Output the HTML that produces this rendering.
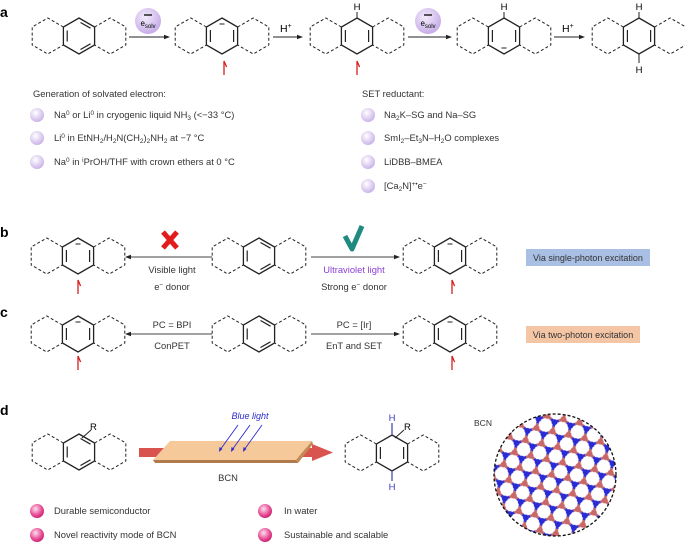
<!DOCTYPE html>
<html><head><meta charset="utf-8"><style>
html,body{margin:0;padding:0;background:#fff;overflow:hidden;width:685px;height:543px;}
svg{display:block;font-family:"Liberation Sans",sans-serif;}
</style></head><body>
<svg width="685" height="543" viewBox="0 0 685 543" xmlns="http://www.w3.org/2000/svg">
<defs>
<radialGradient id="lav" cx="0.4" cy="0.35" r="0.7"><stop offset="0" stop-color="#ffffff"/><stop offset="1" stop-color="#c7aee6"/></radialGradient>
<radialGradient id="pink" cx="0.4" cy="0.35" r="0.7"><stop offset="0" stop-color="#fde0ee"/><stop offset="0.6" stop-color="#e8559a"/><stop offset="1" stop-color="#c8186a"/></radialGradient>
<radialGradient id="esolv" cx="0.4" cy="0.35" r="0.7"><stop offset="0" stop-color="#f3ecfb"/><stop offset="1" stop-color="#c4a8e6"/></radialGradient>
<g id="outer" fill="none" stroke="#222" stroke-width="1" stroke-dasharray="3,2.2">
  <path d="M15.6,-9 L31.2,-18 L46.8,-9 L46.8,9 L31.2,18 L15.6,9"/>
  <path d="M-15.6,-9 L-31.2,-18 L-46.8,-9 L-46.8,9 L-31.2,18 L-15.6,9"/>
</g>
<g id="arom">
  <use href="#outer"/>
  <path d="M0,-18 L15.6,-9 L15.6,9 L0,18 L-15.6,9 L-15.6,-9 Z" fill="none" stroke="#222" stroke-width="1.3"/>
  <path d="M1.5,-13.5 L11.5,-7.8 M11.5,7.8 L1.5,13.5 M-11.8,5.5 L-11.8,-5.5" stroke="#222" stroke-width="1.2" fill="none"/>
</g>
<g id="diene">
  <use href="#outer"/>
  <path d="M0,-18 L15.6,-9 L15.6,9 L0,18 L-15.6,9 L-15.6,-9 Z" fill="none" stroke="#222" stroke-width="1.3"/>
  <path d="M11.6,-6 L11.6,6 M-11.6,-6 L-11.6,6" stroke="#222" stroke-width="1.2"/>
</g>
<g id="rad"><path d="M0,14 L0,0 L2.6,6" fill="none" stroke="#d61f1f" stroke-width="1.3"/></g>
<g id="minus"><path d="M-2.5,0 L2.5,0" stroke="#222" stroke-width="1"/></g>
<pattern id="hc" x="0" y="0" width="28.35" height="16.367" patternUnits="userSpaceOnUse" patternTransform="rotate(-18)">
  <rect width="28.35" height="16.367" fill="#fff"/>
  <g stroke-width="2.8" fill="none">
  <path d="M0,0 L4.725,0 M14.175,8.18 L11.81,4.09 M14.175,8.18 L11.81,12.27 M14.175,8.18 L18.9,8.18 M28.35,0 L25.99,4.09 M28.35,16.367 L25.99,12.27 M0,16.367 L4.725,16.367" stroke="#3434d0"/>
  <path d="M4.725,0 L9.45,0 L11.81,4.09 M9.45,16.367 L11.81,12.27 M18.9,8.18 L23.625,8.18 L25.99,4.09 M23.625,8.18 L25.99,12.27 M4.725,16.367 L9.45,16.367" stroke="#c96868"/>
  </g>
  <g fill="#2b2bd6"><circle cx="0" cy="0" r="3"/><circle cx="28.35" cy="0" r="3"/><circle cx="0" cy="16.367" r="3"/><circle cx="28.35" cy="16.367" r="3"/><circle cx="14.175" cy="8.18" r="3"/></g>
  <g fill="#c96868"><circle cx="9.45" cy="0" r="3"/><circle cx="9.45" cy="16.367" r="3"/><circle cx="23.625" cy="8.18" r="3"/></g>
</pattern>
</defs>

<!-- Panel a -->
<text x="0" y="17" font-size="14" font-weight="bold">a</text>
<use href="#arom" x="79" y="36"/>
<use href="#diene" x="222" y="36"/><use href="#minus" x="222" y="24"/><use href="#rad" x="224" y="61"/>
<use href="#diene" x="357" y="36"/><use href="#rad" x="357" y="61"/>
<line x1="357" y1="18" x2="357" y2="12" stroke="#222"/><text x="357" y="10" font-size="9.5" text-anchor="middle">H</text>
<use href="#diene" x="504" y="36"/><use href="#minus" x="504" y="48"/>
<line x1="504" y1="18" x2="504" y2="12" stroke="#222"/><text x="504" y="10" font-size="9.5" text-anchor="middle">H</text>
<use href="#diene" x="639" y="36"/>
<line x1="639" y1="18" x2="639" y2="12" stroke="#222"/><text x="639" y="10" font-size="9.5" text-anchor="middle">H</text>
<line x1="639" y1="54" x2="639" y2="63" stroke="#222"/><text x="639" y="73" font-size="9.5" text-anchor="middle">H</text>
<g stroke="#222" stroke-width="1"><line x1="129" y1="37" x2="165" y2="37"/><line x1="273" y1="37" x2="298" y2="37"/><line x1="408" y1="37" x2="447" y2="37"/><line x1="554" y1="37" x2="580" y2="37"/></g>
<g fill="#222"><path d="M170,37 l-6,-2.2 v4.4z"/><path d="M303,37 l-6,-2.2 v4.4z"/><path d="M452,37 l-6,-2.2 v4.4z"/><path d="M585,37 l-6,-2.2 v4.4z"/></g>
<circle cx="148" cy="21" r="13" fill="url(#esolv)"/><text x="148" y="26" font-size="8" text-anchor="middle">e<tspan font-size="6" dy="2">solv</tspan></text><path d="M144,15 h8 M146,12 h0.1" stroke="#222" stroke-width="1.6"/>
<circle cx="428" cy="21" r="13" fill="url(#esolv)"/><text x="428" y="26" font-size="8" text-anchor="middle">e<tspan font-size="6" dy="2">solv</tspan></text><path d="M424,15 h8 M426,12 h0.1" stroke="#222" stroke-width="1.6"/>
<text x="280" y="32" font-size="10.5">H<tspan font-size="7" dy="-4">+</tspan></text>
<text x="562" y="32" font-size="10.5">H<tspan font-size="7" dy="-4">+</tspan></text>

<g font-size="9.4" fill="#333">
<text x="33" y="97">Generation of solvated electron:</text>
<circle cx="37" cy="115" r="7" fill="url(#lav)"/><text x="54" y="118">Na<tspan font-size="6.5" dy="-3">0</tspan><tspan dy="3"> or Li</tspan><tspan font-size="6.5" dy="-3">0</tspan><tspan dy="3"> in cryogenic liquid NH</tspan><tspan font-size="6.5" dy="2">3</tspan><tspan dy="-2"> (&lt;−33 °C)</tspan></text>
<circle cx="37" cy="138" r="7" fill="url(#lav)"/><text x="54" y="141">Li<tspan font-size="6.5" dy="-3">0</tspan><tspan dy="3"> in EtNH</tspan><tspan font-size="6.5" dy="2">2</tspan><tspan dy="-2">/H</tspan><tspan font-size="6.5" dy="2">2</tspan><tspan dy="-2">N(CH</tspan><tspan font-size="6.5" dy="2">2</tspan><tspan dy="-2">)</tspan><tspan font-size="6.5" dy="2">2</tspan><tspan dy="-2">NH</tspan><tspan font-size="6.5" dy="2">2</tspan><tspan dy="-2"> at −7 °C</tspan></text>
<circle cx="37" cy="162" r="7" fill="url(#lav)"/><text x="54" y="165">Na<tspan font-size="6.5" dy="-3">0</tspan><tspan dy="3"> in </tspan><tspan font-size="6.5" dy="-3">i</tspan><tspan dy="3">PrOH/THF with crown ethers at 0 °C</tspan></text>
<text x="362" y="97">SET reductant:</text>
<circle cx="368" cy="115" r="7" fill="url(#lav)"/><text x="384" y="118">Na<tspan font-size="6.5" dy="2">2</tspan><tspan dy="-2">K–SG and Na–SG</tspan></text>
<circle cx="368" cy="138" r="7" fill="url(#lav)"/><text x="384" y="141">SmI<tspan font-size="6.5" dy="2">2</tspan><tspan dy="-2">–Et</tspan><tspan font-size="6.5" dy="2">3</tspan><tspan dy="-2">N–H</tspan><tspan font-size="6.5" dy="2">2</tspan><tspan dy="-2">O complexes</tspan></text>
<circle cx="368" cy="162" r="7" fill="url(#lav)"/><text x="384" y="165">LiDBB–BMEA</text>
<circle cx="368" cy="186" r="7" fill="url(#lav)"/><text x="384" y="189">[Ca<tspan font-size="6.5" dy="2">2</tspan><tspan dy="-2">N]</tspan><tspan font-size="6.5" dy="-3">+•</tspan><tspan dy="3">e</tspan><tspan font-size="6.5" dy="-3">−</tspan></text>
</g>

<!-- Panel b -->
<text x="0" y="237" font-size="14" font-weight="bold">b</text>
<use href="#diene" x="78" y="256"/><use href="#minus" x="78" y="244"/><use href="#rad" x="78" y="280"/>
<use href="#arom" x="259" y="256"/>
<use href="#diene" x="450" y="256"/><use href="#minus" x="450" y="244"/><use href="#rad" x="452" y="280"/>
<g stroke="#444" stroke-width="1.1"><line x1="130" y1="257" x2="212" y2="257"/><line x1="311" y1="257" x2="395" y2="257"/></g>
<path d="M125,257 l6,-2.2 v4.4z" fill="#222"/><path d="M400,257 l-6,-2.2 v4.4z" fill="#222"/>
<path d="M163,232 L177,248 M177,232 L163,248" stroke="#e41b1b" stroke-width="5"/>
<path d="M345,236 L352,249 L362,226" fill="none" stroke="#1f8a80" stroke-width="5" stroke-linejoin="round"/>
<g font-size="9.4" fill="#333" text-anchor="middle">
<text x="172" y="273">Visible light</text><text x="172" y="290">e<tspan font-size="6.5" dy="-3">−</tspan><tspan dy="3"> donor</tspan></text>
<text x="354" y="273" fill="#8b3fd8">Ultraviolet light</text><text x="354" y="290">Strong e<tspan font-size="6.5" dy="-3">−</tspan><tspan dy="3"> donor</tspan></text>
</g>
<rect x="526" y="249" width="124" height="17" fill="#a9bfe3"/>
<text x="588" y="261" font-size="9" fill="#333" text-anchor="middle">Via single-photon excitation</text>

<!-- Panel c -->
<text x="0" y="317" font-size="14" font-weight="bold">c</text>
<use href="#diene" x="78" y="334"/><use href="#minus" x="78" y="322"/><use href="#rad" x="78" y="356"/>
<use href="#arom" x="259" y="334"/>
<use href="#diene" x="450" y="334"/><use href="#minus" x="450" y="322"/><use href="#rad" x="452" y="356"/>
<g stroke="#444" stroke-width="1.1"><line x1="130" y1="334" x2="212" y2="334"/><line x1="311" y1="334" x2="395" y2="334"/></g>
<path d="M125,334 l6,-2.2 v4.4z" fill="#222"/><path d="M400,334 l-6,-2.2 v4.4z" fill="#222"/>
<g font-size="9.4" fill="#333" text-anchor="middle">
<text x="172" y="328">PC = BPI</text><text x="172" y="349">ConPET</text>
<text x="354" y="328">PC = [Ir]</text><text x="354" y="349">EnT and SET</text>
</g>
<rect x="526" y="326" width="114" height="17" fill="#f4c6a6"/>
<text x="583" y="338" font-size="9" fill="#333" text-anchor="middle">Via two-photon excitation</text>

<!-- Panel d -->
<text x="0" y="415" font-size="14" font-weight="bold">d</text>
<use href="#arom" x="79" y="452"/>
<line x1="82" y1="438" x2="91" y2="430" stroke="#222"/><text x="90" y="430" font-size="9.5">R</text>
<rect x="139" y="448" width="175" height="9" fill="#d9534f"/>
<path d="M312,444 L333,452.5 L312,461 Z" fill="#d9534f"/>
<path d="M153,460 L296,460 L298,463 L155,463 Z" fill="#b07a4a"/>
<path d="M170,441 L312,441 L296,460 L153,460 Z" fill="#f6c99b"/>
<path d="M296,460 L312,441 L313,444 L298,463 Z" fill="#c48a55"/>
<g stroke="#2a2ad0" stroke-width="0.9"><line x1="238" y1="425" x2="220" y2="450"/><line x1="250" y1="425" x2="232" y2="450"/><line x1="262" y1="425" x2="244" y2="450"/></g>
<g fill="#2a2ad0"><path d="M219,452 l0.5,-5 l3,2z"/><path d="M231,452 l0.5,-5 l3,2z"/><path d="M243,452 l0.5,-5 l3,2z"/></g>
<text x="250" y="419" font-size="9" font-style="italic" fill="#2a2ad0" text-anchor="middle">Blue light</text>
<text x="228" y="481" font-size="9.4" fill="#333" text-anchor="middle">BCN</text>
<use href="#diene" x="392" y="453"/>
<line x1="392" y1="435" x2="392" y2="423" stroke="#4a4ab0" stroke-width="1.3"/><text x="392" y="421" font-size="9.5" fill="#3a3ac0" text-anchor="middle">H</text>
<line x1="392" y1="471" x2="392" y2="481" stroke="#4a4ab0" stroke-width="1.3"/><text x="392" y="490" font-size="9.5" fill="#3a3ac0" text-anchor="middle">H</text>
<line x1="395" y1="438" x2="404" y2="430" stroke="#222"/><text x="404" y="430" font-size="9.5">R</text>
<g font-size="9.4" fill="#333">
<circle cx="37" cy="511" r="7" fill="url(#pink)"/><text x="54" y="514">Durable semiconductor</text>
<circle cx="37" cy="535" r="7" fill="url(#pink)"/><text x="54" y="538">Novel reactivity mode of BCN</text>
<circle cx="265" cy="511" r="7" fill="url(#pink)"/><text x="284" y="514">In water</text>
<circle cx="265" cy="535" r="7" fill="url(#pink)"/><text x="284" y="538">Sustainable and scalable</text>
</g>
<text x="483" y="426" font-size="8.5" fill="#333" text-anchor="middle">BCN</text>
<circle cx="555" cy="475" r="61" fill="url(#hc)" stroke="#111" stroke-width="1.3" stroke-dasharray="3,2"/>
</svg>
</body></html>
